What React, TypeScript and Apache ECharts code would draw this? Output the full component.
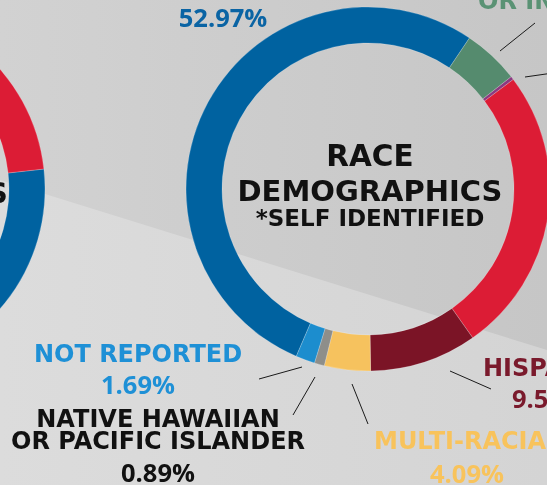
import React, { useEffect, useRef } from "react";
import * as echarts from "echarts";

// ---- data ----
const raceNames = [
  "WHITE",
  "AMERICAN INDIAN OR INDIGENOUS",
  "MIDDLE EASTERN",
  "BLACK OR AFRICAN AMERICAN",
  "HISPANIC",
  "MULTI-RACIAL",
  "NATIVE HAWAIIAN OR PACIFIC ISLANDER",
  "NOT REPORTED",
];
const raceValues = [52.97, 5.0, 0.3, 25.53, 9.53, 4.09, 0.89, 1.69];
const raceColors = ["#0062a0", "#558b6e", "#8b3a80", "#dc1c35", "#7b1426", "#f6c25e", "#8e8e8a", "#1c8dce"];

const genderNames = ["MALE", "FEMALE"];
const genderValues = [50, 50];
const genderColors = ["#0062a0", "#dc1c35"];

// label text lines (value lines use the values above)
const labelTexts: { lines: string[]; showValue: boolean; color: string }[] = [
  { lines: [], showValue: true, color: "#0a64a4" },
  { lines: ["OR INDIGENOUS"], showValue: false, color: "#5a9274" },
  { lines: [], showValue: false, color: "#8b3a80" },
  { lines: [], showValue: false, color: "#dc1c35" },
  { lines: ["HISPANIC"], showValue: true, color: "#7a1a2c" },
  { lines: ["MULTI-RACIAL"], showValue: true, color: "#f8c35c" },
  { lines: ["NATIVE HAWAIIAN", "OR PACIFIC ISLANDER"], showValue: true, color: "#111111" },
  { lines: ["NOT REPORTED"], showValue: true, color: "#1e90d6" },
];

// ---- layout (positions, not data) ----
const CX = 368;
const CY = 189;
const R_IN = 146;
const R_OUT = 182;
const START_ANGLE = 246.8;

const labelLayout: { x: number; y: number; align: string; gap: number; valueGap: number }[] = [
  { x: 223, y: 17, align: "center", gap: 22, valueGap: 0 },
  { x: 478, y: 1, align: "left", gap: 22, valueGap: 30 },
  { x: 600, y: 70, align: "left", gap: 22, valueGap: 30 },
  { x: 600, y: 200, align: "left", gap: 22, valueGap: 30 },
  { x: 483, y: 368, align: "left", gap: 22, valueGap: 30 },
  { x: 374, y: 441, align: "left", gap: 22, valueGap: 32 },
  { x: 158, y: 419, align: "center", gap: 22, valueGap: 53 },
  { x: 138, y: 354, align: "center", gap: 22, valueGap: 30 },
];
const valueLayout: { x: number; align: string }[] = [
  { x: 223, align: "center" },
  { x: 0, align: "left" },
  { x: 0, align: "left" },
  { x: 0, align: "left" },
  { x: 512, align: "left" },
  { x: 430, align: "left" },
  { x: 158, align: "center" },
  { x: 138, align: "center" },
];

const leaderLines: number[][] = [
  [500, 51, 535, 23],
  [525, 77, 560, 72],
  [450, 371, 491, 389],
  [352, 384, 368, 424],
  [315, 377, 293, 415],
  [302, 367, 259, 379],
];

const TEXT_FONT = "'DejaVu Sans', sans-serif";
const NUM_FONT = "'Open Sans', 'DejaVu Sans', sans-serif";

export default function App() {
  const ref = useRef<HTMLDivElement>(null);
  useEffect(() => {
    if (!ref.current) return;
    const chart = echarts.init(ref.current, undefined, { renderer: "svg" });

    const graphics: any[] = [];
    graphics.push({
      type: "rect",
      z: -10,
      shape: { x: 0, y: 0, width: 547, height: 485 },
      style: {
        fill: new echarts.graphic.LinearGradient(0, 0, 1, 0, [
          { offset: 0, color: "#d2d2d2" },
          { offset: 1, color: "#c6c6c6" },
        ]),
      },
      silent: true,
    });
    graphics.push({
      type: "polygon",
      z: -9,
      shape: { points: [[0, 180], [547, 350], [547, 485], [0, 485]] },
      style: {
        fill: new echarts.graphic.LinearGradient(0, 0, 1, 0, [
          { offset: 0, color: "#dcdcdc" },
          { offset: 1, color: "#d4d4d4" },
        ]),
      },
      silent: true,
    });

    // centre title as one rich text block
    graphics.push({
      type: "text",
      x: 370,
      y: 183,
      style: {
        text: "{a|RACE}\n{b|DEMOGRAPHICS}\n{c|*SELF IDENTIFIED}",
        align: "center",
        verticalAlign: "middle",
        rich: {
          a: { font: `bold 29.5px ${TEXT_FONT}`, fill: "#111111", lineHeight: 38, align: "center" },
          b: { font: `bold 29px ${TEXT_FONT}`, fill: "#111111", lineHeight: 32, align: "center" },
          c: { font: `bold 23px ${TEXT_FONT}`, fill: "#111111", lineHeight: 22, align: "center" },
        },
      },
    });
    graphics.push({
      type: "text",
      x: 8,
      y: 193,
      style: {
        text: "DEMOGRAPHICS",
        fill: "#111111",
        font: `bold 29px ${TEXT_FONT}`,
        align: "right",
        verticalAlign: "middle",
      },
    });

    labelTexts.forEach((lt, i) => {
      const lay = labelLayout[i];
      if (lt.lines.length) {
        graphics.push({
          type: "text",
          x: lay.x,
          y: lay.y - lay.gap / 2,
          style: {
            text: lt.lines.join("\n"),
            fill: lt.color,
            font: `bold 24px ${TEXT_FONT}`,
            lineHeight: lay.gap,
            align: lay.align,
            verticalAlign: "top",
          },
        });
      }
      if (lt.showValue) {
        graphics.push({
          type: "text",
          x: valueLayout[i].x,
          y: lay.y + lay.valueGap,
          style: {
            text: raceValues[i].toFixed(2) + "%",
            fill: lt.color,
            font: `bold 25.5px ${NUM_FONT}`,
            align: valueLayout[i].align,
            verticalAlign: "middle",
          },
        });
      }
    });

    leaderLines.forEach((l) =>
      graphics.push({
        type: "line",
        shape: { x1: l[0], y1: l[1], x2: l[2], y2: l[3] },
        style: { stroke: "#1a1a1a", lineWidth: 1 },
      })
    );

    chart.setOption({
      animation: false,
      backgroundColor: "transparent",
      graphic: graphics,
      series: [
        {
          type: "pie",
          center: [CX, CY],
          radius: [R_IN, R_OUT],
          startAngle: START_ANGLE,
          clockwise: true,
          label: { show: false },
          labelLine: { show: false },
          emphasis: { disabled: true },
          itemStyle: { borderWidth: 0.6, borderColor: "rgba(255,255,255,0.35)" },
          data: raceNames.map((n, i) => ({
            name: n,
            value: raceValues[i],
            itemStyle: { color: raceColors[i] },
          })),
        },
        {
          type: "pie",
          center: [-137, CY],
          radius: [R_IN, R_OUT],
          startAngle: 6.3,
          clockwise: true,
          label: { show: false },
          labelLine: { show: false },
          emphasis: { disabled: true },
          itemStyle: { borderWidth: 0.6, borderColor: "rgba(255,255,255,0.35)" },
          data: genderNames.map((n, i) => ({
            name: n,
            value: genderValues[i],
            itemStyle: { color: genderColors[i] },
          })),
        },
      ],
    });
    return () => chart.dispose();
  }, []);
  return (
    <div
      ref={ref}
      style={{ position: "fixed", left: 0, top: 0, width: 547, height: 485 }}
    />
  );
}
